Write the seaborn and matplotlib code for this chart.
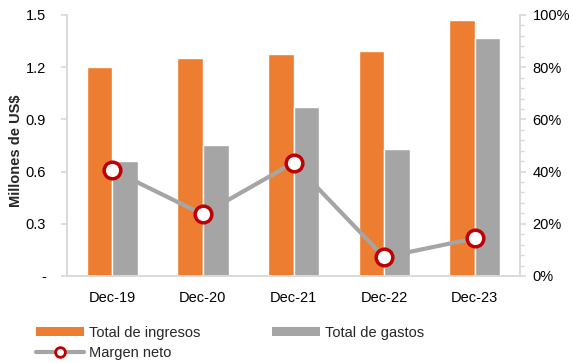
import matplotlib
matplotlib.use("Agg")
import matplotlib.pyplot as plt
from matplotlib.lines import Line2D
from matplotlib.patches import Patch
from matplotlib.ticker import PercentFormatter, MultipleLocator, FixedLocator, FixedFormatter
import seaborn as sns
import pandas as pd

periodos = ["Dec-19", "Dec-20", "Dec-21", "Dec-22", "Dec-23"]
total_ingresos = [1.20, 1.253, 1.274, 1.295, 1.471]
total_gastos = [0.663, 0.751, 0.970, 0.732, 1.366]
margen_neto = [0.406, 0.236, 0.434, 0.072, 0.144]

NARANJA = "#ED7D31"
GRIS = "#A5A5A5"
ROJO = "#C00000"
EJE = "#D9D9D9"

sns.set_theme(style="white")
plt.rcParams["font.family"] = ["Liberation Sans", "DejaVu Sans"]
plt.rcParams["font.size"] = 10.5

df = pd.DataFrame({
    "Periodo": periodos * 2,
    "Serie": ["Total de ingresos"] * 5 + ["Total de gastos"] * 5,
    "Valor": total_ingresos + total_gastos,
})

fig = plt.figure(figsize=(5.73, 3.63), dpi=100)
ax = fig.add_axes([0.117, 0.2397, 0.7905, 0.719])

sns.barplot(data=df, x="Periodo", y="Valor", hue="Serie",
            palette={"Total de ingresos": NARANJA, "Total de gastos": GRIS},
            width=0.565, gap=0, saturation=1, errorbar=None, ax=ax, legend=False)

ax.set_ylim(0, 1.5)
ticks = [0, 0.3, 0.6, 0.9, 1.2, 1.5]
ax.yaxis.set_major_locator(FixedLocator(ticks))
ax.yaxis.set_major_formatter(FixedFormatter(["-", "0.3", "0.6", "0.9", "1.2", "1.5"]))
ax.set_xlim(-0.5, 4.5)
ax.set_xlabel("")
ax.set_ylabel("Millones de US$", fontweight="bold", fontsize=10.5)
ax.yaxis.set_label_coords(-0.113, 0.48)
ax.yaxis.label.set_verticalalignment("center")

ax2 = ax.twinx()
sns.lineplot(x=list(range(5)), y=margen_neto, ax=ax2, color=GRIS, linewidth=3,
             marker="o", markersize=12, markerfacecolor="white",
             markeredgecolor=ROJO, markeredgewidth=2.5)
ax2.set_ylim(0, 1)
ax2.yaxis.set_major_locator(MultipleLocator(0.2))
ax2.yaxis.set_minor_locator(MultipleLocator(0.04))
ax2.yaxis.set_major_formatter(PercentFormatter(1.0, decimals=0))
ax2.set_xlim(-0.5, 4.5)

for a in (ax, ax2):
    a.grid(False)
    a.spines["top"].set_visible(False)
    for s in ("left", "right", "bottom"):
        a.spines[s].set_color(EJE)
        a.spines[s].set_linewidth(1.2)
    a.tick_params(colors="black", labelsize=10.5)

ax.tick_params(axis="y", which="major", left=True, length=4, color=EJE, pad=11)
ax.tick_params(axis="x", bottom=False, pad=5)
ax2.tick_params(axis="y", which="major", right=True, length=4, color=EJE, pad=5)
ax2.tick_params(axis="y", which="minor", right=True, length=3, color=EJE)

handles = [
    Patch(facecolor=NARANJA, edgecolor="none", label="Total de ingresos"),
    Line2D([0], [0], color=GRIS, linewidth=3, marker="o", markersize=7,
           markerfacecolor="white", markeredgecolor=ROJO, markeredgewidth=2,
           label="Margen neto"),
    Patch(facecolor=GRIS, edgecolor="none", label="Total de gastos"),
]
fig.legend(handles=handles, ncol=2, loc="upper left", bbox_to_anchor=(0.062, 0.103),
           frameon=False, fontsize=10.5, handlelength=3.3, handleheight=0.6,
           handletextpad=0.35, columnspacing=4.9, labelspacing=0.45,
           borderpad=0, borderaxespad=0)

fig.savefig("out.png", dpi=100)
